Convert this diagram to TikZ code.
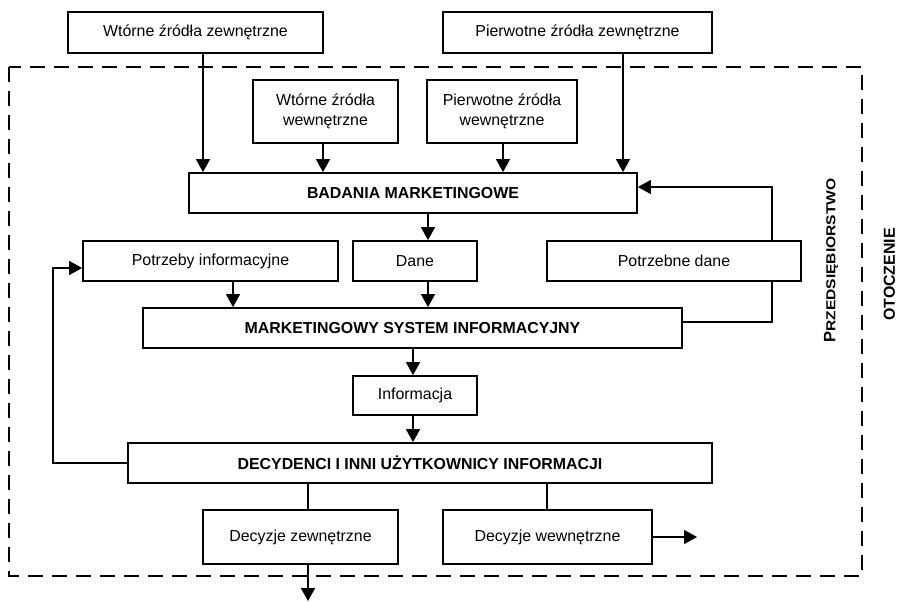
\documentclass[tikz,border=0pt]{standalone}
\usepackage{fontspec}
\setmainfont{Liberation Sans}
\usetikzlibrary{arrows.meta}

\tikzset{
  box/.style={draw, line width=1.8pt, rectangle, align=center, inner sep=0pt,
    font=\fontsize{15.9}{20}\selectfont},
  bbox/.style={box, font=\fontsize{15.9}{20}\selectfont\bfseries},
  link/.style={line width=1.5pt},
  arr/.style={link, -{Triangle[length=13pt, width=14pt]}},
  frame/.style={line width=1.8pt, dash pattern=on 15pt off 9pt},
  side/.style={rotate=90, font=\fontsize{15.9}{20}\selectfont\bfseries, inner sep=0pt}
}

\begin{document}
\begin{tikzpicture}[x=1pt, y=-1pt]
  \useasboundingbox (0,0) rectangle (897,602);

  % enterprise boundary
  \draw[frame] (9,67) rectangle (862,576);

  % external sources
  \node[box, minimum width=255pt, minimum height=41pt] (wz) at (195.5,32.5) {Wtórne źródła zewnętrzne};
  \node[box, minimum width=269pt, minimum height=41pt] (pz) at (577.5,32.5) {Pierwotne źródła zewnętrzne};

  % internal sources
  \node[box, minimum width=145pt, minimum height=63pt] (ww) at (325.5,111.5) {Wtórne źródła\\wewnętrzne};
  \node[box, minimum width=150pt, minimum height=63pt] (pw) at (502,111.5) {Pierwotne źródła\\wewnętrzne};

  % research
  \node[bbox, minimum width=448pt, minimum height=40pt] (bm) at (413,193) {BADANIA MARKETINGOWE};

  % middle row
  \node[box, minimum width=255pt, minimum height=40pt] (pi) at (210.5,261) {Potrzeby informacyjne};
  \node[box, minimum width=124pt, minimum height=40pt] (dane) at (415,261) {Dane};
  \node[box, minimum width=254pt, minimum height=40pt] (pd) at (674,261) {Potrzebne dane};

  % information system
  \node[bbox, minimum width=539pt, minimum height=40pt] (msi) at (412.5,328) {MARKETINGOWY SYSTEM INFORMACYJNY};
  \node[box, minimum width=124pt, minimum height=39pt] (inf) at (415,395.5) {Informacja};

  % decision makers
  \node[bbox, minimum width=584pt, minimum height=40pt] (dec) at (420,463) {DECYDENCI I INNI UŻYTKOWNICY INFORMACJI};
  \node[box, minimum width=195pt, minimum height=54pt] (dz) at (300.5,537) {Decyzje zewnętrzne};
  \node[box, minimum width=209pt, minimum height=54pt] (dw) at (547.5,537) {Decyzje wewnętrzne};

  % side labels
  \node[side] (firm) at (831,260.5) {{\fontsize{16.5}{20}\selectfont P}\scalebox{1.2}[1]{\fontsize{13}{16}\selectfont RZEDSIĘBIORSTWO}};
  \node[side] (env) at (889.5,274.5) {OTOCZENIE};

  % free ends
  \coordinate (out1) at (697,537);
  \coordinate (out2) at (308,601);

  % sources into research
  \draw[arr] (203,0 |- wz.south) -- (203,0 |- bm.north);
  \draw[arr] (323,0 |- ww.south) -- (323,0 |- bm.north);
  \draw[arr] (503,0 |- pw.south) -- (503,0 |- bm.north);
  \draw[arr] (623,0 |- pz.south) -- (623,0 |- bm.north);

  % research to data to system
  \draw[arr] (428,0 |- bm.south) -- (428,0 |- dane.north);
  \draw[arr] (233,0 |- pi.south) -- (233,0 |- msi.north);
  \draw[arr] (428,0 |- dane.south) -- (428,0 |- msi.north);

  % feedback of needed data
  \draw[link] (msi.east |- 0,322) -- (772,322) -- (772,0 |- pd.south);
  \draw[arr] (772,0 |- pd.north) -- (772,187) -- (bm.east |- 0,187);

  % information flow
  \draw[arr] (413,0 |- msi.south) -- (413,0 |- inf.north);
  \draw[arr] (413,0 |- inf.south) -- (413,0 |- dec.north);

  % feedback of information needs
  \draw[arr] (dec.west) -- (53,463) -- (53,268) -- (pi.west |- 0,268);

  % decisions
  \draw[link] (308,0 |- dec.south) -- (308,0 |- dz.north);
  \draw[link] (547,0 |- dec.south) -- (547,0 |- dw.north);
  \draw[arr] (dw.east) -- (out1);
  \draw[arr] (308,0 |- dz.south) -- (out2);
\end{tikzpicture}
\end{document}
